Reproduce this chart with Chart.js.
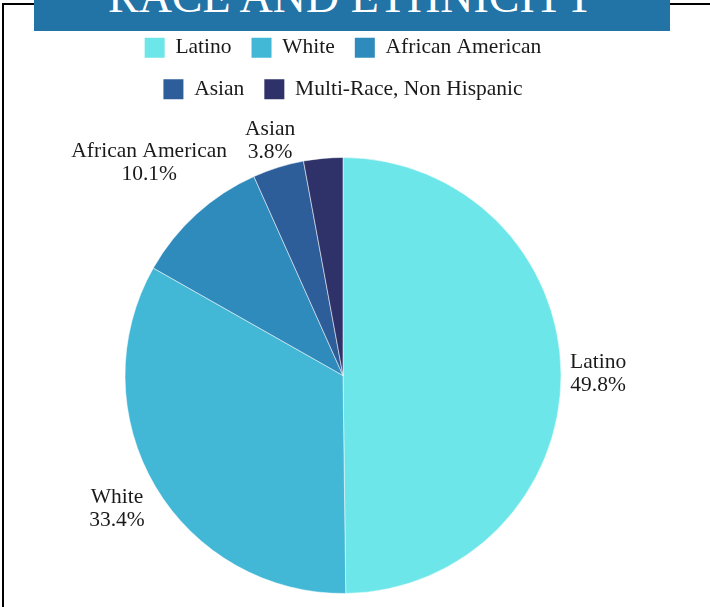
<!DOCTYPE html>
<html>
<head>
<meta charset="utf-8">
<script src="https://cdn.jsdelivr.net/npm/chart.js@4.4.1/dist/chart.umd.min.js"></script>
<style>
  html, body { margin: 0; padding: 0; width: 710px; height: 607px; overflow: hidden; background: #fff; }
  #frame { position: absolute; left: 2px; top: 3px; width: 800px; height: 700px; border-left: 2px solid #000; border-top: 2px solid #000; }
  #chart { position: absolute; left: 0; top: 0; }
  #banner { position: absolute; left: 34px; top: 0; width: 636px; height: 31px; background: #2273a6; overflow: hidden; }
  #banner span { position: absolute; left: 0; right: 0; top: -26px; text-align: center; white-space: nowrap;
                 font: 46px/1 "Liberation Serif", serif; color: #fff; }
</style>
</head>
<body>
<div id="frame"></div>
<canvas id="chart" width="710" height="641"></canvas>
<div id="banner"><span>RACE AND ETHNICITY</span></div>
<script>
const categories = ["Latino", "White", "African American", "Asian", "Multi-Race, Non Hispanic"];
const shares = [49.8, 33.4, 10.1, 3.8, 2.9];
const sliceColors = ["#6ce6e9", "#42b8d6", "#2e8bbc", "#2d5e99", "#2e3269"];
const labelMin = 3; // smaller slices get no outside label

const SERIF = "'Liberation Serif', 'Times New Roman', serif";
const LABEL_SIZE = 21.5;
const LINE_H = 23;

// name + percentage printed outside each slice, pushed out along the mid angle
const sliceLabels = {
    id: "sliceLabels",
    afterDatasetsDraw(chart) {
        const ctx = chart.ctx;
        const meta = chart.getDatasetMeta(0);
        ctx.save();
        ctx.font = LABEL_SIZE + "px " + SERIF;
        ctx.fillStyle = "#1a1a1a";
        ctx.textAlign = "center";
        ctx.textBaseline = "middle";
        meta.data.forEach((arc, i) => {
            if (shares[i] < labelMin) return;
            const lines = [categories[i], shares[i].toFixed(1) + "%"];
            const mid = (arc.startAngle + arc.endAngle) / 2;
            const dx = Math.cos(mid);
            const dy = Math.sin(mid);
            const w = Math.max(...lines.map(t => ctx.measureText(t).width));
            const h = lines.length * LINE_H;
            // labels above the pie sit a bit closer in
            const halfH = dy < 0 ? LINE_H / 2 : h / 2;
            const push = arc.outerRadius + 9 + Math.abs(dx) * w / 2 + Math.abs(dy) * halfH;
            const cx = arc.x + dx * push;
            const cy = arc.y + dy * push;
            lines.forEach((t, k) => {
                ctx.fillText(t, cx, cy - h / 2 + LINE_H * (k + 0.5));
            });
        });
        ctx.restore();
    }
};

new Chart(document.getElementById("chart"), {
    type: "pie",
    data: {
        labels: categories,
        datasets: [{
            data: shares,
            backgroundColor: sliceColors,
            borderColor: "rgba(255,255,255,0.5)",
            borderWidth: 1,
        }]
    },
    options: {
        responsive: false,
        animation: false,
        radius: 218,
        layout: { padding: { top: 17, left: 83, right: 107, bottom: 0 } },
        plugins: {
            tooltip: { enabled: false },
            legend: {
                position: "top",
                labels: {
                    boxWidth: 20,
                    boxHeight: 20,
                    padding: 20,
                    color: "#1a1a1a",
                    font: { family: SERIF, size: LABEL_SIZE },
                    generateLabels(chart) {
                        const items = Chart.overrides.pie.plugins.legend.labels.generateLabels(chart);
                        items.forEach(it => { it.lineWidth = 0; });
                        return items;
                    }
                }
            }
        }
    },
    plugins: [sliceLabels]
});
</script>
</body>
</html>
